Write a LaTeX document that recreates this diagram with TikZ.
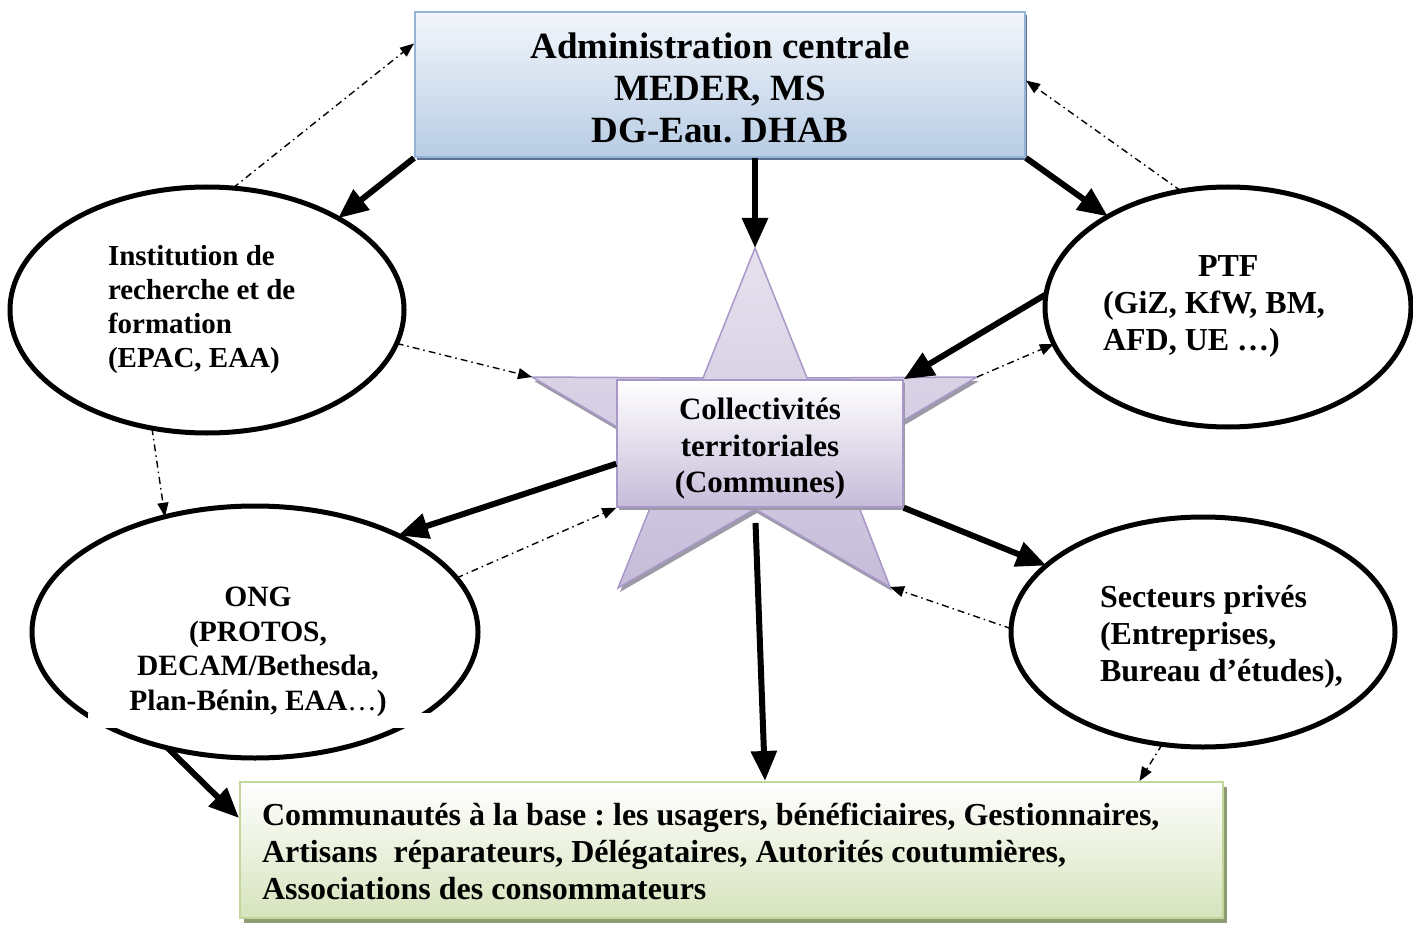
\documentclass[tikz,border=0pt]{standalone}
\usepackage{fontspec}
\setmainfont{Liberation Serif}
\usetikzlibrary{arrows.meta,shapes.geometric,shadows,calc}
\definecolor{bluetop}{HTML}{F2F6FB}
\definecolor{bluebot}{HTML}{B8CCE4}
\definecolor{blueline}{HTML}{95B3D7}
\definecolor{blueshadow}{HTML}{5F7391}
\definecolor{lavtop}{HTML}{E6E1EE}
\definecolor{lavbot}{HTML}{C6BCD9}
\definecolor{lavline}{HTML}{A898C8}
\definecolor{starshadow}{HTML}{9C9AA6}
\definecolor{greenbot}{HTML}{D6E3BC}
\definecolor{greenline}{HTML}{C3D69B}
\definecolor{greenshadow}{HTML}{8E9C74}
\frenchspacing
\begin{document}
\begin{tikzpicture}[x=1pt,y=-1pt,
  font=\bfseries,
  ell/.style={draw, line width=5pt, ellipse, inner sep=0pt, outer sep=0pt},
  thickarrow/.style={line width=6pt, -{Triangle[length=30pt,width=25pt]}},
  ddarrow/.style={line width=1.4pt, dash pattern=on 7pt off 4pt on 1.5pt off 4pt, -{Triangle[length=14pt,width=11pt]}},
  txt/.style={inner sep=0pt, outer sep=0pt},
]
\useasboundingbox (0,0) rectangle (1413,925);

% ---- top box
\node[draw=blueline, line width=2pt, top color=bluetop, bottom color=bluebot,
      minimum width=610pt, minimum height=145pt, inner sep=0pt,
      drop shadow={shadow xshift=2pt, shadow yshift=-3pt, fill=blueshadow, opacity=1}]
      (topbox) at (720,84.5) {};
\node[txt, anchor=north, align=center, font=\bfseries\fontsize{37}{42}\selectfont]
      (toptext) at (720,33) {Administration centrale\\MEDER, MS\\DG-Eau. DHAB};

% ---- ellipses
\node[ell, minimum width=394pt, minimum height=246pt] (inst) at (207,310) {};
\node[ell, minimum width=366pt, minimum height=240pt] (ptf) at (1228,307) {};
\node[ell, minimum width=446pt, minimum height=252pt] (ong) at (255,632) {};
\node[ell, minimum width=384pt, minimum height=230pt] (sect) at (1203,632) {};
\fill[white] (88,713) rectangle (430,728);

\node[txt, anchor=north west, align=left, font=\bfseries\fontsize{29}{34}\selectfont]
      (insttext) at (108,245) {Institution de\\recherche et de\\formation\\(EPAC, EAA)};
\node[txt, anchor=north west, align=left, font=\bfseries\fontsize{32}{37}\selectfont]
      (ptftext) at (1103,256) {\hspace*{95pt}PTF\\(GiZ, KfW, BM,\\AFD, UE …)};
\node[txt, anchor=north, align=center, font=\bfseries\fontsize{29.5}{34.5}\selectfont]
      (ongtext) at (258,587) {ONG\\(PROTOS,\\DECAM/Bethesda,\\Plan-Bénin, EAA{\mdseries…})};
\node[txt, anchor=north west, align=left, font=\bfseries\fontsize{32}{37}\selectfont]
      (secttext) at (1100,585) {Secteurs privés\\(Entreprises,\\Bureau d’études),};

% ---- star
\coordinate (sT) at (755,248);
\coordinate (sUR) at (807,378);
\coordinate (sR) at (977,377);
\coordinate (sLR) at (840,458);
\coordinate (sBR) at (890,587);
\coordinate (sB) at (755,509);
\coordinate (sBL) at (618,588);
\coordinate (sLL) at (670,458);
\coordinate (sL) at (532,377);
\coordinate (sUL) at (703,378);
\draw[draw=lavline, line width=1.5pt, top color=lavtop, bottom color=lavbot,
      drop shadow={shadow xshift=2pt, shadow yshift=-4pt, fill=starshadow, opacity=1}]
  (sT) -- (sUR) -- (sR) -- (sLR) -- (sBR) -- (sB) -- (sBL) -- (sLL) -- (sL) -- (sUL) -- cycle;
\node[draw=lavline, line width=1.5pt, top color=white, bottom color=lavbot,
      minimum width=286pt, minimum height=127pt, inner sep=0pt,
      drop shadow={shadow xshift=2pt, shadow yshift=-3pt, fill=starshadow, opacity=1}]
      (crect) at (760,443.5) {};
\node[txt, anchor=north, align=center, font=\bfseries\fontsize{31}{36.5}\selectfont]
      (crecttext) at (760,398) {Collectivités\\territoriales\\(Communes)};

% ---- bottom box
\node[draw=greenline, line width=2pt, top color=white, bottom color=greenbot,
      minimum width=983pt, minimum height=136pt, inner sep=0pt,
      drop shadow={shadow xshift=4pt, shadow yshift=-5pt, fill=greenshadow, opacity=1}]
      (bbox) at (731.5,850) {};
\node[txt, anchor=north west, align=left, font=\bfseries\fontsize{32}{37}\selectfont]
      (bboxtext) at (262,803) {Communautés à la base : les usagers, bénéficiaires, Gestionnaires,\\Artisans\ \ réparateurs, Délégataires, Autorités coutumières,\\Associations des consommateurs};

% ---- thick arrows
\draw[thickarrow] (topbox.south west) -- (inst.35);
\draw[thickarrow] (topbox.south -| sT) -- (sT);
\draw[thickarrow] (topbox.south east) -- (ptf.143);
\draw[thickarrow] (ptf.176) -- (crect.north east);
\draw[thickarrow] (crect.188) -- (ong.34);
\draw[thickarrow] (crect.south east) -- (sect.157);
\draw[thickarrow, shorten <=14pt] (sB) -- ([xshift=10pt]sB |- bbox.north);
\draw[thickarrow] (ong.233) -- ([yshift=32pt]bbox.west);

% ---- dash-dot arrows
\draw[ddarrow] (inst.78) -- ([yshift=41pt]topbox.west);
\draw[ddarrow] (ptf.112) -- ([yshift=4pt]topbox.east);
\draw[ddarrow] (inst.-10) -- (sL);
\draw[ddarrow] (inst.245) -- (ong.128);
\draw[ddarrow] (ong.15) -- (crect.south west);
\draw[ddarrow] (sR) -- (ptf.192);
\draw[ddarrow] (sect.179) -- (sBR);
\draw[ddarrow] (sect.250) -- ([xshift=408pt]bbox.north);
\end{tikzpicture}
\end{document}
